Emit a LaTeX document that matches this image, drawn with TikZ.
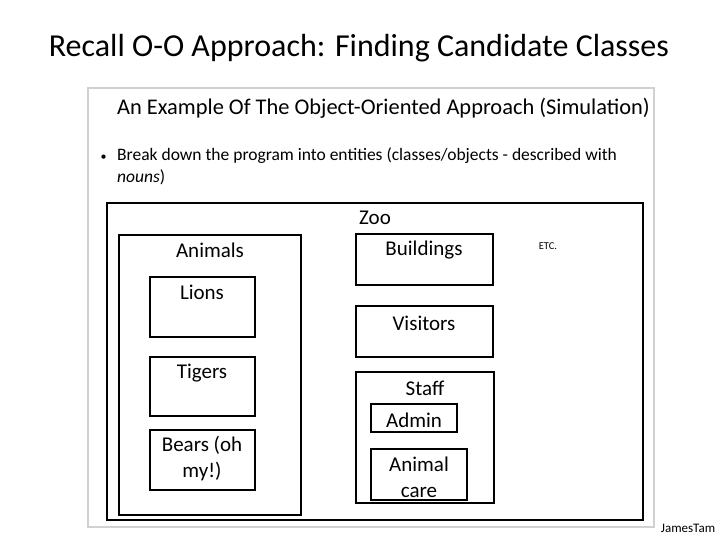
\documentclass[tikz,border=0pt]{standalone}
\usepackage{fontspec}
\setmainfont{Carlito}
\begin{document}
\begin{tikzpicture}[x=1pt,y=-1pt,
  bx/.style={draw=black,line width=1.6pt},
  lbl/.style={font=\fontsize{21}{26}\selectfont,anchor=center,align=center}]
\useasboundingbox (0,0) rectangle (720,540);
\fill[white] (0,0) rectangle (720,540);
\node[font=\fontsize{32}{36}\selectfont] (title) at (359,48) {Recall O-O Approach: Finding Candidate Classes};
\draw[draw=black!18,line width=2pt] (88,88) rectangle (654,527);
\node[anchor=west,font=\fontsize{22.4}{26}\selectfont,inner sep=0pt] (head) at (117,108) {An Example Of The Object-Oriented Approach (Simulation)};
\node[anchor=west,font=\fontsize{12}{13}\selectfont] (bul) at (97,158) {\textbullet};
\node[anchor=north west,align=left,inner sep=0pt,font=\fontsize{17.5}{22}\selectfont] (btxt) at (117,148) {Break down the program into entities (classes/objects - described with\\\textit{nouns})};
\draw[bx] (107,203) rectangle (643,520);
\node[lbl] (zoo) at (375,218) {Zoo};
\draw[bx] (119,235) rectangle (301,515);
\node[lbl] (animals) at (210,250) {Animals};
\draw[bx] (150,277) rectangle (255,337);
\node[lbl] (lions) at (202,292) {Lions};
\draw[bx] (150,357) rectangle (255,416);
\node[lbl] (tigers) at (202,373) {Tigers};
\draw[bx] (150,430) rectangle (255,490);
\node[lbl] (bears) at (202,459) {Bears (oh\\my!)};
\draw[bx] (356,234) rectangle (493,285);
\node[lbl] (build) at (424,250) {Buildings};
\draw[bx] (356,306) rectangle (493,357);
\node[lbl] (visit) at (424,323) {Visitors};
\draw[bx] (356,372) rectangle (494,503);
\node[lbl] (staff) at (425,388) {Staff};
\draw[bx] (371,404) rectangle (457,432);
\node[lbl] (admin) at (414,420) {Admin};
\draw[bx] (371,449) rectangle (467,500);
\node[lbl] (care) at (419,477) {Animal\\care};
\node[font=\fontsize{10.5}{12}\selectfont] (etc) at (548,246) {ETC.};
\node[font=\fontsize{13}{14}\selectfont] (jt) at (688,528) {JamesTam};
\end{tikzpicture}
\end{document}
